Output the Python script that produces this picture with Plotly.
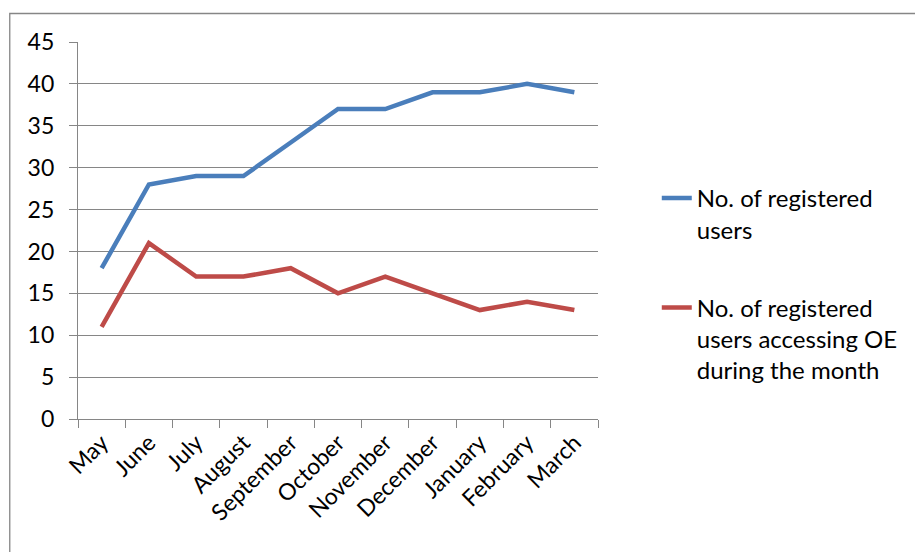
import plotly.graph_objects as go

months = ["May", "June", "July", "August", "September", "October", "November",
          "December", "January", "February", "March"]
registered = [18, 28, 29, 29, 33, 37, 37, 39, 39, 40, 39]
accessing = [11, 21, 17, 17, 18, 15, 17, 15, 13, 14, 13]
series_names = ["No. of registered<br>users",
                "No. of registered<br>users accessing OE<br>during the month"]

FONT = "Lato"
GRID = "#868686"

fig = go.Figure()
fig.add_trace(go.Scatter(x=months, y=registered, mode="lines", name=series_names[0],
                         legendgroup="g1",
                         line=dict(color="#4A7EBB", width=4.5)))
fig.add_trace(go.Scatter(x=months, y=accessing, mode="lines", name=series_names[1],
                         legendgroup="g2",
                         line=dict(color="#BE4B48", width=4.5)))

W, H = 915, 552
L, R, T, B = 78, 315, 42, 133
pw = W - L - R
ph = H - T - B

fig.add_shape(type="rect", xref="paper", yref="paper",
              x0=(9.5 - L) / pw, x1=(W + 20 - L) / pw,
              y0=(H - B - (H + 20)) / ph, y1=(H - B - 13.5) / ph,
              line=dict(color=GRID, width=1.3), fillcolor="rgba(0,0,0,0)", layer="below")

fig.update_layout(
    width=W, height=H,
    margin=dict(l=L, r=R, t=T, b=B, pad=0),
    paper_bgcolor="white", plot_bgcolor="white",
    font=dict(family=FONT, size=23, color="black"),
    showlegend=True,
    legend=dict(x=(659 - L) / pw, y=(H - B - 176) / ph, xanchor="left", yanchor="top",
                valign="top", traceorder="grouped", tracegroupgap=44, itemwidth=30,
                font=dict(family=FONT, size=24, color="black"),
                bgcolor="rgba(0,0,0,0)"),
    xaxis=dict(type="category", showgrid=False, showline=True, linecolor=GRID, linewidth=1.3,
               ticks="outside", tickson="boundaries", ticklen=8, tickcolor=GRID, tickwidth=1.3,
               tickangle=-45, tickfont=dict(family=FONT, size=23, color="black"),
               range=[-0.5, 10.5], fixedrange=True, automargin=False),
    yaxis=dict(range=[0, 45], dtick=5, showgrid=True, gridcolor=GRID, gridwidth=1.3,
               showline=True, linecolor=GRID, linewidth=1.3, zeroline=False,
               ticks="outside", ticklen=8, tickcolor=GRID, tickwidth=1.3,
               ticklabelstandoff=10,
               tickfont=dict(family=FONT, size=23, color="black"), fixedrange=True,
               automargin=False),
)

fig.write_html("out.html")
